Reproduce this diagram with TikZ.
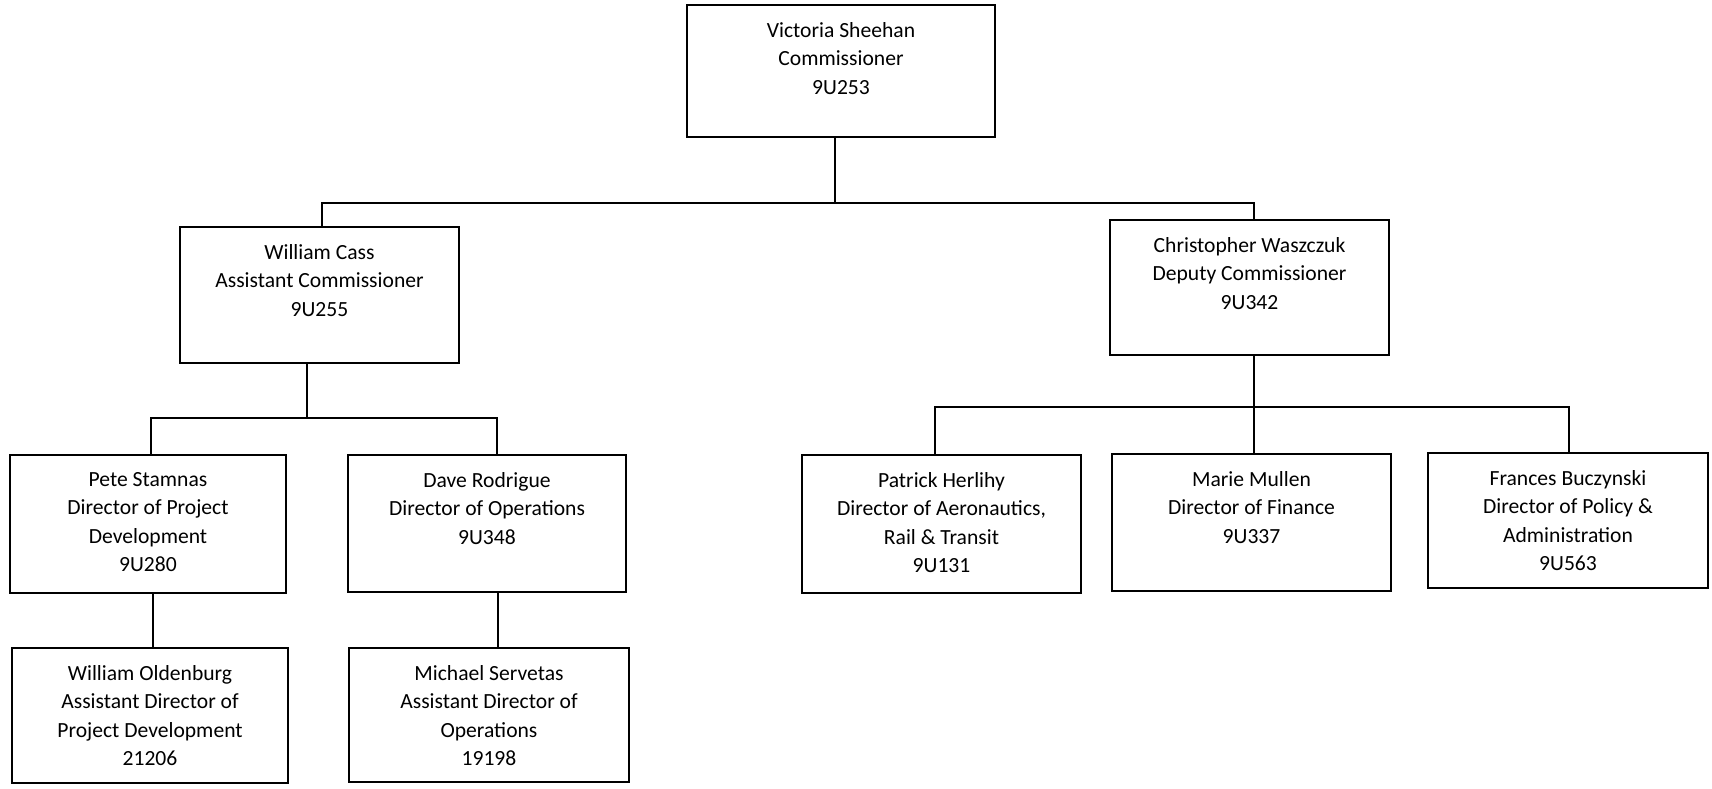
\documentclass[tikz,border=0pt]{standalone}
\usepackage{fontspec}
\setmainfont{Carlito}
\usetikzlibrary{fit}
\begin{document}
\begin{tikzpicture}[x=0.5pt,y=-0.5pt,
  orgbox/.style={draw=black, line width=1.3pt, inner sep=0pt, fit={#1}},
  orgtext/.style={anchor=north, align=center, inner sep=0pt, font=\fontsize{10.8}{14.3}\selectfont},
  link/.style={draw=black, line width=1.2pt}]
\useasboundingbox (0,0) rectangle (1712,788);
\fill[white] (0,0) rectangle (1712,788);
% boxes
\node[orgbox={(687,5)(995,137)}] (vs) {};
\node[orgbox={(180,227)(459,363)}] (wc) {};
\node[orgbox={(1110,220)(1389,355)}] (cw) {};
\node[orgbox={(10,455)(286,593)}] (ps) {};
\node[orgbox={(348,455)(626,592)}] (dr) {};
\node[orgbox={(12,648)(288,783)}] (wo) {};
\node[orgbox={(349,648)(629,782)}] (ms) {};
\node[orgbox={(802,455)(1081,593)}] (ph) {};
\node[orgbox={(1112,454)(1391,591)}] (mm) {};
\node[orgbox={(1428,453)(1708,588)}] (fb) {};
% texts
\node[orgtext] (vst) at ([yshift=-9pt]vs.north) {Victoria Sheehan\\Commissioner\\9U253};
\node[orgtext] (wct) at ([yshift=-9pt]wc.north) {William Cass\\Assistant Commissioner\\9U255};
\node[orgtext] (cwt) at ([yshift=-9pt]cw.north) {Christopher Waszczuk\\Deputy Commissioner\\9U342};
\node[orgtext] (pst) at ([yshift=-9pt]ps.north) {Pete Stamnas\\Director of Project\\Development\\9U280};
\node[orgtext] (drt) at ([yshift=-9pt]dr.north) {Dave Rodrigue\\Director of Operations\\9U348};
\node[orgtext] (wot) at ([yshift=-9pt]wo.north) {William Oldenburg\\Assistant Director of\\Project Development\\21206};
\node[orgtext] (mst) at ([yshift=-9pt]ms.north) {Michael Servetas\\Assistant Director of\\Operations\\19198};
\node[orgtext] (pht) at ([yshift=-9pt]ph.north) {Patrick Herlihy\\Director of Aeronautics,\\Rail \& Transit\\9U131};
\node[orgtext] (mmt) at ([yshift=-9pt]mm.north) {Marie Mullen\\Director of Finance\\9U337};
\node[orgtext] (fbt) at ([yshift=-9pt]fb.north) {Frances Buczynski\\Director of Policy \&\\Administration\\9U563};
% junction coordinates
\coordinate (j1) at (835,203);
\coordinate (j1l) at (322,203);
\coordinate (j1r) at (1254,203);
\coordinate (j2) at (307,418);
\coordinate (j2l) at (151,418);
\coordinate (j2r) at (497,418);
\coordinate (j3) at (1254,407);
\coordinate (j3l) at (935,407);
\coordinate (j3r) at (1569,407);
\coordinate (k1) at (153,620);
\coordinate (k2) at (498,620);
% connectors
\draw[link] (vs.south -| j1) -- (j1);
\draw[link] (wc.north -| j1l) -- (j1l) -- (j1r) -- (cw.north -| j1r);
\draw[link] (wc.south -| j2) -- (j2);
\draw[link] (ps.north -| j2l) -- (j2l) -- (j2r) -- (dr.north -| j2r);
\draw[link] (cw.south -| j3) -- (j3);
\draw[link] (ph.north -| j3l) -- (j3l) -- (j3r) -- (fb.north -| j3r);
\draw[link] (j3) -- (mm.north -| j3);
\draw[link] (ps.south -| k1) -- (wo.north -| k1);
\draw[link] (dr.south -| k2) -- (ms.north -| k2);
\end{tikzpicture}
\end{document}
